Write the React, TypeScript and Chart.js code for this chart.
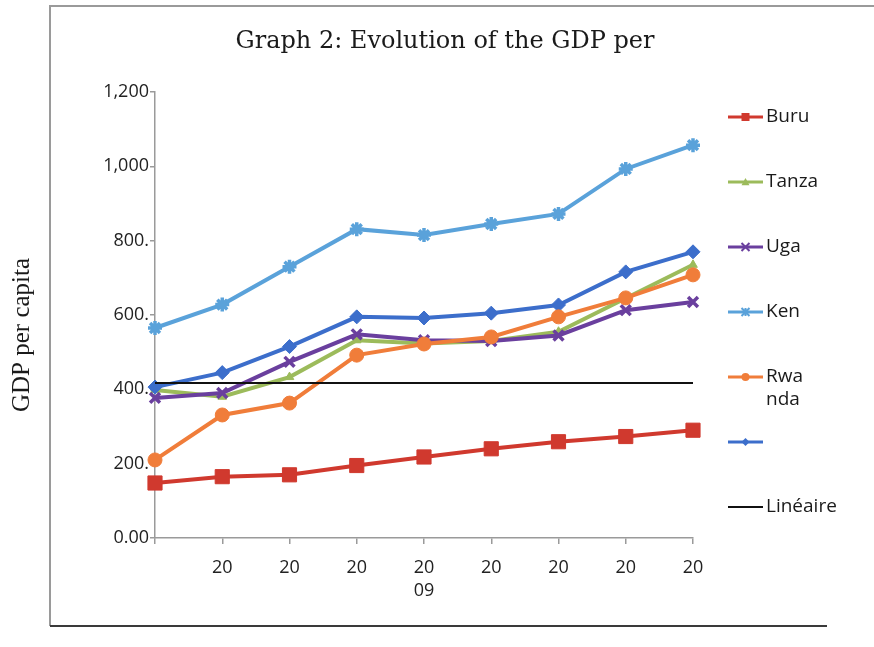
import React, { useEffect, useRef } from 'react';
import { Chart, registerables } from 'chart.js';

Chart.register(...registerables);

const xLabels: (string | string[])[] = ['', '20', '20', '20', ['20', '09'], '20', '20', '20', '20'];
const yTickLabels = ['0.00', '200.', '400.', '600.', '800.', '1,000', '1,200'];

const buru = [148, 165, 170, 195, 218, 240, 259, 273, 290];
const tanza = [398, 380, 433, 532, 523, 530, 555, 645, 735];
const uga = [377, 390, 474, 548, 532, 530, 545, 613, 635];
const ken = [565, 628, 730, 831, 815, 845, 872, 993, 1057];
const rwanda = [210, 331, 363, 492, 522, 541, 595, 646, 708];
const unnamed = [406, 445, 515, 595, 592, 605, 627, 716, 770];
const lineaire = [417, 417, 417, 417, 417, 417, 417, 417, 417];

const legendLabels = ['Buru', 'Tanza', 'Uga', 'Ken', 'Rwa\nnda', '', 'Linéaire'];
const chartTitle = 'Graph 2: Evolution of the GDP per';
const yTitle = 'GDP per capita';

const RED = '#d0392e';
const GREEN = '#9cbb5b';
const PURPLE = '#6a3f9e';
const KEN = '#5aa2da';
const ORANGE = '#f07d3a';
const BLUE = '#3c6ecb';

function drawMarker(ctx: CanvasRenderingContext2D, style: string, x: number, y: number, r: number, color: string) {
  ctx.save();
  ctx.fillStyle = color;
  ctx.strokeStyle = color;
  ctx.lineWidth = 2;
  ctx.beginPath();
  if (style === 'rect') {
    ctx.rect(x - r, y - r, 2 * r, 2 * r);
    ctx.fill();
  } else if (style === 'triangle') {
    ctx.moveTo(x, y - r);
    ctx.lineTo(x + r, y + r * 0.8);
    ctx.lineTo(x - r, y + r * 0.8);
    ctx.closePath();
    ctx.fill();
  } else if (style === 'crossRot') {
    ctx.moveTo(x - r, y - r);
    ctx.lineTo(x + r, y + r);
    ctx.moveTo(x + r, y - r);
    ctx.lineTo(x - r, y + r);
    ctx.stroke();
  } else if (style === 'star') {
    ctx.moveTo(x - r, y - r);
    ctx.lineTo(x + r, y + r);
    ctx.moveTo(x + r, y - r);
    ctx.lineTo(x - r, y + r);
    ctx.moveTo(x, y - r);
    ctx.lineTo(x, y + r);
    ctx.stroke();
  } else if (style === 'circle') {
    ctx.arc(x, y, r, 0, Math.PI * 2);
    ctx.fill();
  } else if (style === 'rectRot') {
    ctx.moveTo(x, y - r);
    ctx.lineTo(x + r, y);
    ctx.lineTo(x, y + r);
    ctx.lineTo(x - r, y);
    ctx.closePath();
    ctx.fill();
  }
  ctx.restore();
}

const decorPlugin = {
  id: 'decor',
  afterDraw(chart: any) {
    const ctx: CanvasRenderingContext2D = chart.ctx;
    const area = chart.chartArea;
    ctx.save();
    // frame
    ctx.strokeStyle = '#9a9a9a';
    ctx.lineWidth = 2;
    ctx.beginPath();
    ctx.moveTo(874, 6);
    ctx.lineTo(50, 6);
    ctx.lineTo(50, 626);
    ctx.stroke();
    ctx.strokeStyle = '#3a3a3a';
    ctx.beginPath();
    ctx.moveTo(50, 626);
    ctx.lineTo(827, 626);
    ctx.stroke();

    // title
    ctx.fillStyle = '#1a1a1a';
    ctx.font = '24px "DejaVu Serif"';
    ctx.textAlign = 'center';
    ctx.textBaseline = 'alphabetic';
    ctx.fillText(chartTitle, 445, 48);

    // y title
    ctx.save();
    ctx.translate(22, 335);
    ctx.rotate(-Math.PI / 2);
    ctx.font = '25px "Liberation Serif"';
    ctx.textAlign = 'center';
    ctx.textBaseline = 'middle';
    ctx.fillText(yTitle, 0, 0);
    ctx.restore();

    // legend
    const datasets = chart.data.datasets;
    const x0 = area.right + 35;
    const x1 = x0 + 35;
    ctx.font = '19px "Open Sans"';
    ctx.textAlign = 'left';
    ctx.textBaseline = 'middle';
    datasets.forEach((ds: any, i: number) => {
      const y = area.top + 25 + i * 65;
      ctx.strokeStyle = ds.borderColor;
      ctx.lineWidth = ds.borderWidth > 2 ? 3 : 2;
      ctx.beginPath();
      ctx.moveTo(x0, y);
      ctx.lineTo(x1, y);
      ctx.stroke();
      if (ds.pointRadius > 0) {
        drawMarker(ctx, ds.pointStyle, (x0 + x1) / 2, y, 4, ds.borderColor);
      }
      ctx.fillStyle = '#1a1a1a';
      const lines = legendLabels[i].split('\n');
      lines.forEach((t, k) => ctx.fillText(t, x1 + 3, y + k * 23));
    });
    ctx.restore();
  },
};

export default function App() {
  const ref = useRef<HTMLCanvasElement>(null);
  useEffect(() => {
    if (!ref.current) return;
    const mk = (label: string, data: number[], color: string, style: any, radius: number, order: number, bw = 4) => ({
      label,
      data,
      borderColor: color,
      backgroundColor: color,
      pointBackgroundColor: color,
      pointBorderColor: color,
      pointStyle: style,
      pointRadius: radius,
      pointBorderWidth: style === 'crossRot' || style === 'star' ? 3.5 : 1,
      borderWidth: bw,
      tension: 0,
      order,
      clip: false as any,
    });
    const chart = new Chart(ref.current, {
      type: 'line',
      data: {
        labels: xLabels as any,
        datasets: [
          mk('Buru', buru, RED, 'rect', 10, 6),
          mk('Tanza', tanza, GREEN, 'triangle', 5, 5),
          mk('Uga', uga, PURPLE, 'crossRot', 7, 4),
          mk('Ken', ken, KEN, 'star', 7, 3),
          mk('Rwanda', rwanda, ORANGE, 'circle', 7, 1),
          mk('', unnamed, BLUE, 'rectRot', 7, 2),
          mk('Linéaire', lineaire, '#111111', false, 0, 0, 2),
        ],
      },
      options: {
        responsive: true,
        maintainAspectRatio: false,
        animation: false,
        layout: { padding: { left: 0, top: 92, right: 181, bottom: 39 } },
        plugins: {
          legend: { display: false },
          title: { display: false },
          tooltip: { enabled: false },
        },
        scales: {
          x: {
            type: 'category',
            offset: false,
            grid: { display: true, drawOnChartArea: false, drawTicks: true, tickLength: 6, color: '#9a9a9a', lineWidth: 1.5 },
            border: { display: true, color: '#9a9a9a', width: 1.5 },
            ticks: {
              color: '#222',
              font: { family: '"Open Sans"', size: 18, lineHeight: 1.3 },
              maxRotation: 0,
              autoSkip: false,
              padding: 12,
            },
            afterFit: (s: any) => { s.height = 70; },
          },
          y: {
            min: 0,
            max: 1200,
            grid: { display: true, drawOnChartArea: false, drawTicks: true, tickLength: 5, color: '#9a9a9a', lineWidth: 1.5 },
            border: { display: true, color: '#9a9a9a', width: 1.5 },
            ticks: {
              stepSize: 200,
              color: '#222',
              font: { family: '"Open Sans"', size: 18 },
              padding: 1,
              callback: (v: any) => yTickLabels[Math.round(Number(v) / 200)],
            },
            afterFit: (s: any) => { s.width = 155; },
          },
        },
      },
      plugins: [decorPlugin],
    });
    return () => chart.destroy();
  }, []);
  return (
    <div style={{ position: 'absolute', left: 0, top: 0, width: 874, height: 647, background: '#fff' }}>
      <canvas ref={ref} />
    </div>
  );
}
